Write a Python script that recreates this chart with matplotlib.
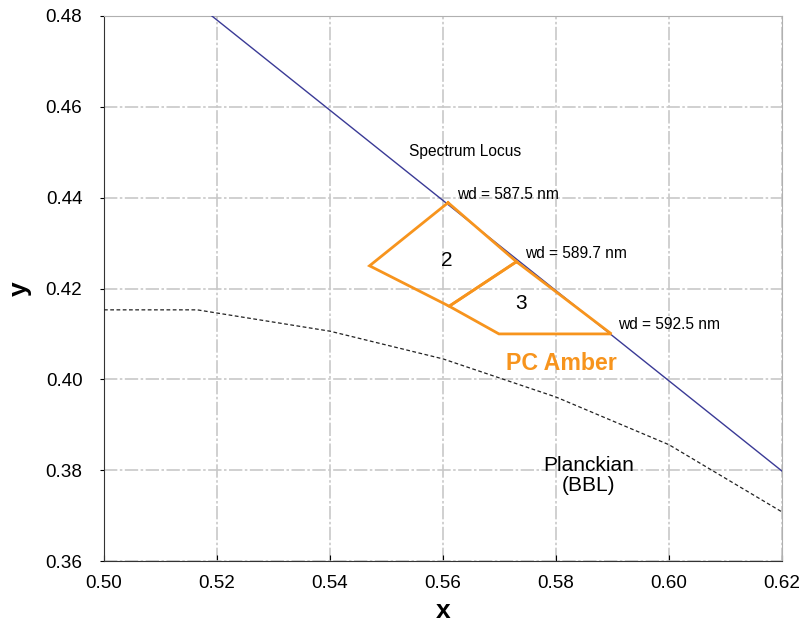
import matplotlib.pyplot as plt

plt.rcParams['font.family'] = ['Liberation Sans', 'DejaVu Sans']

# spectrum locus (end points inside the window)
locus_x = [0.5191, 0.62]
locus_y = [0.48, 0.3798]

# planckian locus (BBL)
bbl_x = [0.50, 0.5165, 0.54, 0.56, 0.58, 0.60, 0.62]
bbl_y = [0.4153, 0.4153, 0.4106, 0.4045, 0.3961, 0.3856, 0.3708]

# PC Amber bins
bin2_x = [0.5609, 0.5730, 0.5611, 0.5470, 0.5609]
bin2_y = [0.4389, 0.4259, 0.4161, 0.4250, 0.4389]
bin3_x = [0.5730, 0.5898, 0.5699, 0.5611, 0.5730]
bin3_y = [0.4259, 0.4100, 0.4100, 0.4161, 0.4259]

wd_labels = ["wd = 587.5 nm", "wd = 589.7 nm", "wd = 592.5 nm"]
wd_pos = [(0.5624, 0.4406), (0.5745, 0.4276), (0.5910, 0.4120)]

orange = '#f7941d'

fig = plt.figure(figsize=(8, 6.25), dpi=100)
ax = fig.add_axes([0.13, 0.1024, 0.8475, 0.872])

ax.plot(locus_x, locus_y, color='#3a3a96', lw=1.0, zorder=3)
ax.plot(bbl_x, bbl_y, color='#222222', lw=0.9, ls=(0, (3, 2)), zorder=3)
ax.plot(bin2_x, bin2_y, color=orange, lw=2.0, solid_joinstyle='miter', zorder=4)
ax.plot(bin3_x, bin3_y, color=orange, lw=2.0, solid_joinstyle='miter', zorder=4)

ax.text(0.5540, 0.4501, "Spectrum Locus", fontsize=11.2, va='center')
for lab, (x, y) in zip(wd_labels, wd_pos):
    ax.text(x, y, lab, fontsize=11.2, va='center')
ax.text(0.5607, 0.4261, "2", fontsize=15, ha='center', va='center')
ax.text(0.5738, 0.4166, "3", fontsize=15, ha='center', va='center')
ax.text(0.5712, 0.4034, "PC Amber", fontsize=16.7, fontweight='bold', color=orange, va='center')
ax.text(0.5857, 0.3789, "Planckian\n(BBL)", fontsize=15, ha='center', va='center',
        linespacing=1.08)

ax.set_xlim(0.50, 0.62)
ax.set_ylim(0.36, 0.48)
ax.set_xticks([0.50, 0.52, 0.54, 0.56, 0.58, 0.60, 0.62])
ax.set_yticks([0.36, 0.38, 0.40, 0.42, 0.44, 0.46, 0.48])
ax.xaxis.set_major_formatter(plt.FormatStrFormatter('%.2f'))
ax.yaxis.set_major_formatter(plt.FormatStrFormatter('%.2f'))
ax.grid(True, color='#c8c8c8', lw=1.2, ls=(0, (8, 1.5, 1.5, 1.5)))
ax.set_axisbelow(True)
ax.tick_params(axis='x', direction='in', length=4, labelsize=13.6, pad=10)
ax.tick_params(axis='y', direction='out', length=3, labelsize=13.6, pad=12.5)
for s in ['top', 'right']:
    ax.spines[s].set_color('#b0b0b0')
for s in ['left', 'bottom']:
    ax.spines[s].set_color('#333333')
ax.set_xlabel("x", fontsize=19, fontweight='bold', labelpad=5)
ax.set_ylabel("y", fontsize=19, fontweight='bold', labelpad=10, rotation=90)

fig.savefig('out.png', dpi=100)
